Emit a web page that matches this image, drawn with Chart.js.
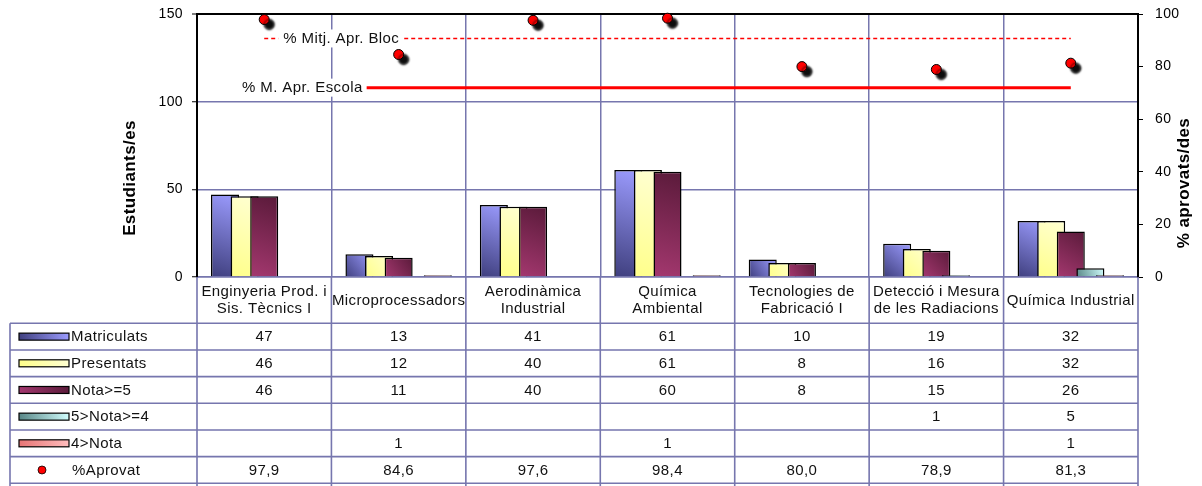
<!DOCTYPE html>
<html>
<head>
<meta charset="utf-8">
<script src="https://cdn.jsdelivr.net/npm/chart.js@4.4.1/dist/chart.umd.min.js"></script>
<style>
  html, body { margin: 0; padding: 0; background: #ffffff; }
  #wrap { position: relative; width: 1202px; height: 486px; }
</style>
</head>
<body>
<div id="wrap"><canvas id="c"></canvas></div>
<script>
// ---------- DATA ----------
const categories = [
  ['Enginyeria Prod. i', 'Sis. Tècnics I'],
  ['Microprocessadors'],
  ['Aerodinàmica', 'Industrial'],
  ['Química', 'Ambiental'],
  ['Tecnologies de', 'Fabricació I'],
  ['Detecció i Mesura', 'de les Radiacions'],
  ['Química Industrial']
];
const matriculats = [47, 13, 41, 61, 10, 19, 32];
const presentats  = [46, 12, 40, 61, 8, 16, 32];
const notaMes5    = [46, 11, 40, 60, 8, 15, 26];
const nota4a5     = [null, null, null, null, null, 1, 5];
const notaMenys4  = [null, 1, null, 1, null, null, 1];
const pctAprovat  = [97.9, 84.6, 97.6, 98.4, 80.0, 78.9, 81.3];
const mitjBloc    = [90.7, 90.7, 90.7, 90.7, 90.7, 90.7, 90.7];
const mitjEscola  = [72.0, 72.0, 72.0, 72.0, 72.0, 72.0, 72.0];
const leftTicks   = [0, 50, 100, 150];
const rightTicks  = [0, 20, 40, 60, 80, 100];
const seriesNames = ['Matriculats', 'Presentats', 'Nota>=5', '5>Nota>=4', '4>Nota'];
const pctName     = '%Aprovat';
const blocLabel   = '% Mitj. Apr. Bloc';
const escolaLabel = '% M. Apr. Escola';
const leftTitle   = 'Estudiants/es';
const rightTitle  = '% aprovats/des';

// ---------- STYLE ----------
const FONT = '"Liberation Sans", Arial, sans-serif';
const GRID = '#7676ae';
const barValues = [matriculats, presentats, notaMes5, nota4a5, notaMenys4];
const seriesColors = [
  ['#3f3f7e', '#9c9cff'],
  ['#ffff8a', '#ffffd2'],
  ['#a4386f', '#5a1a3a'],
  ['#578585', '#d2ffff'],
  ['#e67474', '#ffbdbd']
];
const CAT_PCT = 0.729;
const BAR_PCT = 1.43;
const NB = seriesNames.length;

function barGradient(ctx) {
  const cols = seriesColors[ctx.datasetIndex];
  const chart = ctx.chart;
  const area = chart.chartArea;
  if (!area || ctx.type !== 'data' || ctx.raw == null) return cols[0];
  const xs = chart.scales.x, ys = chart.scales.y;
  const catW = xs.width / categories.length;
  const pitch = catW * CAT_PCT / NB;
  const bw = pitch * BAR_PCT;
  const slotC = xs.getPixelForValue(ctx.dataIndex) - pitch * NB / 2 + (ctx.datasetIndex + 0.5) * pitch;
  const left = slotC - bw / 2;
  const top = ys.getPixelForValue(ctx.raw), bottom = ys.getPixelForValue(0);
  const g = chart.ctx.createLinearGradient(left, bottom, left + bw, top);
  g.addColorStop(0, cols[0]);
  g.addColorStop(1, cols[1]);
  return g;
}

const datasets = seriesNames.map((name, i) => ({
  type: 'bar',
  label: name,
  data: barValues[i],
  yAxisID: 'y',
  order: 3,
  backgroundColor: barGradient,
  borderColor: '#000000',
  borderWidth: 1.5,
  barPercentage: BAR_PCT,
  categoryPercentage: CAT_PCT
}));
datasets.push({
  type: 'line', label: blocLabel, data: mitjBloc, yAxisID: 'y1', order: 2,
  borderColor: '#ff0000', borderWidth: 1.5, borderDash: [4, 3],
  pointRadius: 0, fill: false
});
datasets.push({
  type: 'line', label: escolaLabel, data: mitjEscola, yAxisID: 'y1', order: 2,
  borderColor: '#ff0000', borderWidth: 3,
  pointRadius: 0, fill: false
});
datasets.push({
  type: 'line', label: pctName, data: pctAprovat, yAxisID: 'y1', order: 1,
  showLine: false, pointRadius: 5, pointBackgroundColor: '#ff0000',
  pointBorderColor: '#000000', pointBorderWidth: 1, clip: false, shadow: true
});

// draw bars in dataset order so later bars overlap earlier ones (3D look)
const barOrderPlugin = {
  id: 'barOrder',
  beforeDatasetsDraw(chart) {
    const c = chart.ctx, a = chart.chartArea;
    c.save();
    c.beginPath();
    c.rect(a.left, a.top - 2, a.right - a.left, a.bottom - a.top + 2);
    c.clip();
    for (let i = 0; i < NB; i++) {
      const meta = chart.getDatasetMeta(i);
      if (meta && meta.controller) meta.controller.draw();
    }
    c.restore();
  },
  beforeDatasetDraw(chart, args) {
    if (args.index < NB) return false;
  }
};

const shadowPlugin = {
  id: 'shadow',
  beforeDatasetDraw(chart, args) {
    if (chart.data.datasets[args.index].shadow) {
      const c = chart.ctx;
      c.save();
      c.shadowColor = 'rgba(0,0,0,0.95)';
      c.shadowOffsetX = 5;
      c.shadowOffsetY = 5;
      c.shadowBlur = 2;
    }
  },
  afterDatasetDraw(chart, args) {
    if (chart.data.datasets[args.index].shadow) chart.ctx.restore();
  }
};

const spacingPlugin = {
  id: 'spacing',
  beforeDraw(chart) {
    if ('letterSpacing' in chart.ctx) chart.ctx.letterSpacing = '0.4px';
  }
};

function boxedText(c, text, x, y, align) {
  c.font = '15px ' + FONT;
  c.textAlign = align;
  c.textBaseline = 'middle';
  const w = c.measureText(text).width;
  const x0 = align === 'left' ? x : x - w;
  c.fillStyle = '#ffffff';
  c.fillRect(x0 - 5, y - 9, w + 9, 18);
  c.fillStyle = '#111111';
  c.fillText(text, x, y + 0.5);
}

const labelsPlugin = {
  id: 'lineLabels',
  afterDatasetsDraw(chart) {
    const c = chart.ctx, xs = chart.scales.x, y1 = chart.scales.y1;
    c.save();
    if ('letterSpacing' in c) c.letterSpacing = '0.4px';
    boxedText(c, blocLabel, xs.getPixelForValue(0) + 19, y1.getPixelForValue(mitjBloc[0]), 'left');
    boxedText(c, escolaLabel, xs.getPixelForValue(1) - 36, y1.getPixelForValue(mitjEscola[0]), 'right');
    c.restore();
  }
};

const tablePlugin = {
  id: 'table',
  afterDraw(chart) {
    const c = chart.ctx, a = chart.chartArea, xs = chart.scales.x;
    const n = categories.length;
    const catW = (a.right - a.left) / n;
    const labelRowH = 46.3, rowH = 26.67;
    const tTop = a.bottom + labelRowH;
    const rows = NB + 1;
    const legendLeft = 10;
    const H = chart.height;
    c.save();
    if ('letterSpacing' in c) c.letterSpacing = '0.4px';
    // grid lines
    c.strokeStyle = GRID;
    c.lineWidth = 1.6;
    c.beginPath();
    for (let i = 0; i <= n; i++) {
      const x = a.left + i * catW;
      c.moveTo(x, a.bottom); c.lineTo(x, H);
    }
    c.moveTo(legendLeft, tTop); c.lineTo(legendLeft, H);
    for (let r = 0; r <= rows; r++) {
      const y = tTop + r * rowH;
      c.moveTo(legendLeft, y); c.lineTo(a.right, y);
    }
    c.stroke();

    // category labels
    c.fillStyle = '#111111';
    c.font = '15px ' + FONT;
    c.textAlign = 'center';
    c.textBaseline = 'middle';
    const cy = a.bottom + labelRowH / 2 + 0.5;
    categories.forEach((lines, i) => {
      const x = xs.getPixelForValue(i);
      if (lines.length === 1) c.fillText(lines[0], x, cy);
      else { c.fillText(lines[0], x, cy - 8.3); c.fillText(lines[1], x, cy + 8.3); }
    });

    // value cells
    for (let r = 0; r < rows; r++) {
      const y = tTop + (r + 0.5) * rowH + 0.5;
      for (let i = 0; i < n; i++) {
        let v;
        if (r < NB) {
          v = barValues[r][i];
          if (v == null) continue;
          v = String(v);
        } else {
          v = pctAprovat[i].toFixed(1).replace('.', ',');
        }
        c.textAlign = 'center';
        c.fillText(v, xs.getPixelForValue(i), y);
      }
    }

    // legend column
    for (let r = 0; r < rows; r++) {
      const y = tTop + (r + 0.5) * rowH;
      if (r < NB) {
        const cols = seriesColors[r];
        const g = c.createLinearGradient(19, y + 3.5, 69, y - 3.5);
        g.addColorStop(0, cols[0]); g.addColorStop(1, cols[1]);
        c.fillStyle = g;
        c.fillRect(19, y - 3.5, 50, 7);
        c.strokeStyle = '#000000'; c.lineWidth = 1.2;
        c.strokeRect(19, y - 3.5, 50, 7);
        c.fillStyle = '#111111';
        c.textAlign = 'left';
        c.fillText(seriesNames[r], 71, y + 0.5);
      } else {
        c.beginPath();
        c.arc(42, y, 4, 0, Math.PI * 2);
        c.fillStyle = '#ff0000'; c.fill();
        c.strokeStyle = '#000000'; c.lineWidth = 0.8; c.stroke();
        c.fillStyle = '#111111';
        c.textAlign = 'left';
        c.fillText(pctName, 72, y + 0.5);
      }
    }

    // axis titles
    c.font = 'bold 17px ' + FONT;
    c.textAlign = 'center';
    c.textBaseline = 'middle';
    c.fillStyle = '#000000';
    c.save(); c.translate(130, 178); c.rotate(-Math.PI / 2); c.fillText(leftTitle, 0, 0); c.restore();
    c.save(); c.translate(1184, 183); c.rotate(-Math.PI / 2); c.fillText(rightTitle, 0, 0); c.restore();
    c.restore();
  }
};

new Chart(document.getElementById('c'), {
  data: { labels: categories.map(l => l.join(' ')), datasets },
  options: {
    responsive: true,
    maintainAspectRatio: false,
    animation: false,
    layout: { padding: { left: 137, right: 4, top: 14, bottom: 209 } },
    plugins: { legend: { display: false }, tooltip: { enabled: false } },
    scales: {
      x: {
        offset: true,
        grid: {
          offset: true,
          drawTicks: false,
          lineWidth: 1.5,
          color: (ctx) => (ctx.index === undefined || ctx.index === 0) ? 'rgba(0,0,0,0)' : GRID
        },
        border: { color: GRID, width: 1.5 },
        ticks: { display: false },
        afterFit: (s) => { s.height = 0; }
      },
      y: {
        position: 'left',
        min: 0, max: 150,
        afterBuildTicks: (s) => { s.ticks = leftTicks.map(v => ({ value: v })); },
        grid: {
          color: (ctx) => (ctx.tick && ctx.tick.value === 150) ? '#000000' : GRID,
          lineWidth: (ctx) => (ctx.tick && ctx.tick.value === 150) ? 2 : 1.5,
          tickColor: '#000000',
          tickLength: 5,
          tickWidth: 1
        },
        border: { color: '#000000', width: 2 },
        ticks: { padding: 9, color: '#000000', font: { family: FONT, size: 14 } },
        afterFit: (s) => { s.width = 60; s.paddingTop = 0; s.paddingBottom = 0; }
      },
      y1: {
        position: 'right',
        min: 0, max: 100,
        afterBuildTicks: (s) => { s.ticks = rightTicks.map(v => ({ value: v })); },
        grid: { drawOnChartArea: false, tickColor: '#000000', tickLength: 5, tickWidth: 1 },
        border: { color: '#000000', width: 2 },
        ticks: { padding: 12, color: '#000000', font: { family: FONT, size: 14 } },
        afterFit: (s) => { s.width = 60; s.paddingTop = 0; s.paddingBottom = 0; }
      }
    }
  },
  plugins: [spacingPlugin, barOrderPlugin, shadowPlugin, labelsPlugin, tablePlugin]
});
</script>
</body>
</html>
